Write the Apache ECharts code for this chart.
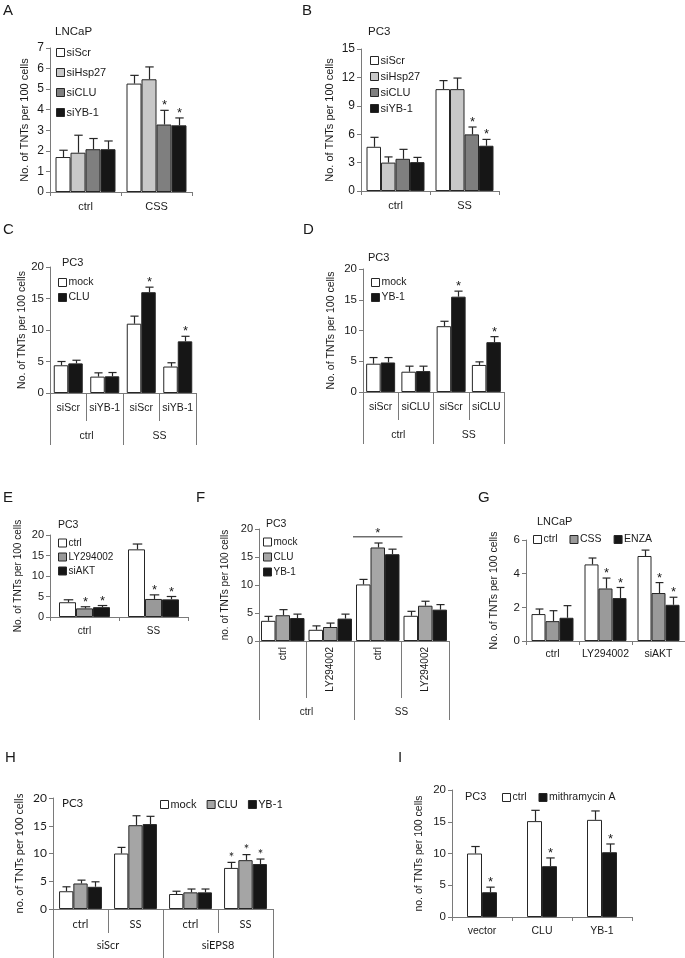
<!DOCTYPE html>
<html>
<head>
<meta charset="utf-8">
<script src="https://cdn.jsdelivr.net/npm/echarts@6/dist/echarts.min.js"></script>
<style>
  html, body { margin: 0; padding: 0; background: #fff; }
  #chart { width: 685px; height: 958px; }
</style>
</head>
<body>
<div id="chart"></div>
<script>
// ---- data ----
// A: LNCaP
const aCats = ['ctrl', 'CSS'];
const aNames = ['siScr', 'siHsp27', 'siCLU', 'siYB-1'];
const aMean = [[1.70, 5.27], [1.91, 5.48], [2.08, 3.28], [2.08, 3.24]];
const aErr = [[0.33, 0.40], [0.85, 0.60], [0.52, 0.69], [0.40, 0.36]];
const aStar = [[0, 0], [0, 0], [0, 1], [0, 1]];

// B: PC3
const bCats = ['ctrl', 'SS'];
const bNames = ['siScr', 'siHsp27', 'siCLU', 'siYB-1'];
const bMean = [[4.67, 10.76], [3.0, 10.76], [3.4, 5.98], [3.05, 4.78]];
const bErr = [[1.0, 0.9], [0.6, 1.17], [1.0, 0.78], [0.5, 0.67]];
const bStar = [[0, 0], [0, 0], [0, 1], [0, 1]];

// C: PC3
const cCats = ['siScr', 'siYB-1', 'siScr', 'siYB-1'];
const cGroups = ['ctrl', 'SS'];
const cNames = ['mock', 'CLU'];
const cMean = [[4.4, 2.6, 11.0, 4.2], [4.7, 2.65, 16.0, 8.2]];
const cErr = [[0.6, 0.6, 1.2, 0.6], [0.5, 0.6, 0.8, 0.8]];
const cStar = [[0, 0, 0, 0], [0, 0, 1, 1]];

// D: PC3
const dCats = ['siScr', 'siCLU', 'siScr', 'siCLU'];
const dGroups = ['ctrl', 'SS'];
const dNames = ['mock', 'YB-1'];
const dMean = [[4.6, 3.3, 10.7, 4.4], [4.8, 3.4, 15.5, 8.1]];
const dErr = [[1.0, 0.9, 0.8, 0.5], [0.8, 0.8, 0.9, 0.9]];
const dStar = [[0, 0, 0, 0], [0, 0, 1, 1]];

// E: PC3
const eCats = ['ctrl', 'SS'];
const eNames = ['ctrl', 'LY294002', 'siAKT'];
const eMean = [[3.6, 16.5], [2.1, 4.4], [2.4, 4.3]];
const eErr = [[0.6, 1.3], [0.4, 1.0], [0.4, 0.7]];
const eStar = [[0, 0], [1, 1], [1, 1]];

// F: PC3
const fCats = ['ctrl', 'LY294002', 'ctrl', 'LY294002'];
const fGroups = ['ctrl', 'SS'];
const fNames = ['mock', 'CLU', 'YB-1'];
const fMean = [[3.6, 2.0, 10.1, 4.5], [4.6, 2.5, 16.7, 6.3], [4.1, 4.0, 15.5, 5.6]];
const fErr = [[0.8, 0.7, 0.9, 0.8], [1.0, 0.7, 0.8, 0.8], [0.7, 0.8, 0.9, 0.9]];
const fStar = [[0, 0, 0, 0], [0, 0, 0, 0], [0, 0, 0, 0]];
const fSig = [[2, 18.6]];

// G: LNCaP
const gCats = ['ctrl', 'LY294002', 'siAKT'];
const gNames = ['ctrl', 'CSS', 'ENZA'];
const gMean = [[1.6, 4.55, 5.05], [1.18, 3.12, 2.85], [1.38, 2.55, 2.15]];
const gErr = [[0.3, 0.38, 0.35], [0.62, 0.62, 0.62], [0.72, 0.63, 0.45]];
const gStar = [[0, 0, 0], [0, 1, 1], [0, 1, 1]];

// H: PC3
const hCats = ['ctrl', 'SS', 'ctrl', 'SS'];
const hGroups = ['siScr', 'siEPS8'];
const hNames = ['mock', 'CLU', 'YB-1'];
const hMean = [[3.2, 10.0, 2.7, 7.4], [4.6, 15.1, 3.0, 8.8], [4.0, 15.3, 3.0, 8.1]];
const hErr = [[0.8, 1.1, 0.5, 1.0], [0.6, 1.7, 0.6, 1.0], [0.9, 1.4, 0.6, 0.9]];
const hStar = [[0, 0, 0, 1], [0, 0, 0, 1], [0, 0, 0, 1]];

// I: PC3
const iCats = ['vector', 'CLU', 'YB-1'];
const iNames = ['ctrl', 'mithramycin A'];
const iMean = [[10.0, 15.1, 15.3], [3.9, 8.0, 10.2]];
const iErr = [[1.1, 1.7, 1.4], [0.8, 1.3, 1.3]];
const iStar = [[0, 0, 0], [1, 1, 1]];

// ---- styling ----
const FONT = '"Liberation Sans", Arial, sans-serif';
const INK = '#1a1a1a';
const AXIS = '#7a7a7a';
const EDGE = '#262626';
const WHITE = '#ffffff', BLACK = '#161616';

const chart = echarts.init(document.getElementById('chart'));
const option = {
  animation: false,
  backgroundColor: '#fff',
  title: [], legend: [], grid: [], xAxis: [], yAxis: [], series: []
};

function addPanel(p) {
  const font = p.font || FONT;
  const fs = p.fs;
  const n = p.names.length;

  option.title.push({
    text: p.letter, left: p.letterPos[0], top: p.letterPos[1], padding: 0,
    textStyle: { fontSize: 15, fontWeight: 'normal', color: INK, fontFamily: FONT }
  });
  option.title.push({
    text: p.cell, left: p.cellPos[0], top: p.cellPos[1], padding: 0,
    textStyle: { fontSize: fs + 0.5, fontWeight: 'normal', color: INK, fontFamily: font }
  });

  const gi = option.grid.length;
  option.grid.push({ left: p.box[0], top: p.box[1], width: p.box[2], height: p.box[3] });

  const xi = option.xAxis.length;
  option.xAxis.push({
    gridIndex: gi, type: 'category', data: p.cats, position: 'bottom',
    axisLine: { lineStyle: { color: AXIS, width: 1 } },
    axisTick: { show: true, interval: 0, length: p.tick || 4, lineStyle: { color: AXIS } },
    axisLabel: { interval: 0, margin: p.labMargin, rotate: p.labRotate || 0, color: INK, fontSize: fs, fontFamily: font }
  });
  if (p.groups) {
    option.xAxis.push({
      gridIndex: gi, type: 'category', data: p.groups, position: 'bottom',
      axisLine: { show: false },
      axisTick: { show: true, interval: 0, length: p.tick2, lineStyle: { color: AXIS } },
      axisLabel: { interval: 0, margin: p.labMargin2, color: INK, fontSize: fs, fontFamily: font }
    });
  }

  const yi = option.yAxis.length;
  option.yAxis.push({
    gridIndex: gi, type: 'value', min: 0, max: p.max, interval: p.step,
    name: p.yName, nameLocation: 'middle', nameGap: p.nameGap,
    nameTextStyle: { color: INK, fontSize: fs, fontFamily: font },
    axisLine: { show: true, lineStyle: { color: AXIS } },
    axisTick: { show: true, length: 4, lineStyle: { color: AXIS } },
    axisLabel: { color: INK, fontSize: fs + 1, fontFamily: font, margin: 6 },
    splitLine: { show: false }
  });

  const errData = [];
  p.names.forEach((nm, k) => {
    option.series.push({
      type: 'bar', name: nm, xAxisIndex: xi, yAxisIndex: yi, data: p.mean[k],
      barWidth: p.bw, barGap: '0%', silent: true,
      itemStyle: { color: p.colors[k], borderColor: EDGE, borderWidth: 1 }
    });
    p.mean[k].forEach((v, c) => errData.push([c, v, p.err[k][c], p.star[k][c], k]));
  });

  // error bars + significance stars
  option.series.push({
    type: 'custom', xAxisIndex: xi, yAxisIndex: yi, data: errData, silent: true, z: 5,
    renderItem: (params, api) => {
      const c = api.value(0), v = api.value(1), e = api.value(2), s = api.value(3), k = api.value(4);
      const lo = api.coord([c, v]), hi = api.coord([c, v + e]);
      const x = Math.round(lo[0] + (k - (n - 1) / 2) * p.bw) + 0.5;
      const cap = p.bw * 0.28;
      const kids = [
        { type: 'line', shape: { x1: x, y1: lo[1], x2: x, y2: hi[1] }, style: { stroke: EDGE, lineWidth: 1.2 } },
        { type: 'line', shape: { x1: x - cap, y1: hi[1], x2: x + cap, y2: hi[1] }, style: { stroke: EDGE, lineWidth: 1.2 } }
      ];
      if (s) {
        kids.push({ type: 'text', x: x, y: hi[1] + 2,
          style: { text: '*', fill: INK, font: '13px ' + font, align: 'center', verticalAlign: 'bottom' } });
      }
      return { type: 'group', children: kids };
    }
  });

  // bracket across one group (panel F)
  if (p.sig) {
    option.series.push({
      type: 'custom', xAxisIndex: xi, yAxisIndex: yi, data: p.sig, silent: true, z: 5,
      renderItem: (params, api) => {
        const pt = api.coord([api.value(0), api.value(1)]);
        const half = n * p.bw / 2 + 3;
        return { type: 'group', children: [
          { type: 'line', shape: { x1: pt[0] - half, y1: pt[1], x2: pt[0] + half, y2: pt[1] }, style: { stroke: EDGE, lineWidth: 1 } },
          { type: 'text', x: pt[0], y: pt[1] + 3, style: { text: '*', fill: INK, font: '13px ' + font, align: 'center', verticalAlign: 'bottom' } }
        ] };
      }
    });
  }

  option.legend.push({
    orient: p.leg.orient, left: p.leg.left, top: p.leg.top, itemGap: p.leg.gap,
    itemWidth: 8, itemHeight: 8, icon: 'rect', selectedMode: false, padding: 0,
    textStyle: { color: INK, fontSize: fs, fontFamily: font, padding: [0, 0, 0, -3] },
    itemStyle: { borderColor: EDGE, borderWidth: 1 },
    data: p.names.map((nm, k) => ({ name: nm, itemStyle: { color: p.colors[k], borderColor: EDGE, borderWidth: 1 } }))
  });
}

const upper = 'No. of TNTs per 100 cells';
const lower = 'no. of TNTs per 100 cells';

addPanel({ letter: 'A', letterPos: [3, 3], cell: 'LNCaP', cellPos: [55, 26], box: [50, 48, 142, 144],
  max: 7, step: 1, cats: aCats, names: aNames, mean: aMean, err: aErr, star: aStar,
  colors: [WHITE, '#c8c8c8', '#7f7f7f', BLACK], bw: 15, fs: 11, labMargin: 9, yName: upper, nameGap: 20,
  leg: { orient: 'vertical', left: 56, top: 47, gap: 9 } });

addPanel({ letter: 'B', letterPos: [302, 3], cell: 'PC3', cellPos: [368, 26], box: [361, 49, 138, 142],
  max: 15, step: 3, cats: bCats, names: bNames, mean: bMean, err: bErr, star: bStar,
  colors: [WHITE, '#c8c8c8', '#7f7f7f', BLACK], bw: 14.5, fs: 11, labMargin: 9, yName: upper, nameGap: 26,
  leg: { orient: 'vertical', left: 370, top: 55, gap: 5 } });

addPanel({ letter: 'C', letterPos: [3, 222], cell: 'PC3', cellPos: [62, 257], box: [50, 267, 146, 126],
  max: 20, step: 5, cats: cCats, groups: cGroups, names: cNames, mean: cMean, err: cErr, star: cStar,
  colors: [WHITE, BLACK], bw: 14.5, fs: 10.5, tick: 28, labMargin: 10, tick2: 52, labMargin2: 38,
  yName: upper, nameGap: 20, leg: { orient: 'vertical', left: 58, top: 277, gap: 4 } });

addPanel({ letter: 'D', letterPos: [303, 222], cell: 'PC3', cellPos: [368, 252], box: [363, 269, 141, 123],
  max: 20, step: 5, cats: dCats, groups: dGroups, names: dNames, mean: dMean, err: dErr, star: dStar,
  colors: [WHITE, BLACK], bw: 14.5, fs: 10.5, tick: 28, labMargin: 10, tick2: 52, labMargin2: 38,
  yName: upper, nameGap: 26, leg: { orient: 'vertical', left: 371, top: 277, gap: 4 } });

addPanel({ letter: 'E', letterPos: [3, 490], cell: 'PC3', cellPos: [58, 520], box: [50, 535, 138, 82],
  max: 20, step: 5, cats: eCats, names: eNames, mean: eMean, err: eErr, star: eStar,
  colors: [WHITE, '#999999', BLACK], bw: 17, fs: 10, labMargin: 9, yName: upper, nameGap: 27,
  leg: { orient: 'vertical', left: 58, top: 538, gap: 4 } });

addPanel({ letter: 'F', letterPos: [196, 490], cell: 'PC3', cellPos: [266, 519], box: [259, 529, 190, 112],
  max: 20, step: 5, cats: fCats, groups: fGroups, names: fNames, mean: fMean, err: fErr, star: fStar, sig: fSig,
  colors: [WHITE, '#a6a6a6', BLACK], bw: 14.5, fs: 10, tick: 57, labMargin: 6, labRotate: 90,
  tick2: 79, labMargin2: 66, yName: lower, nameGap: 29,
  leg: { orient: 'vertical', left: 263, top: 537, gap: 5 } });

addPanel({ letter: 'G', letterPos: [478, 490], cell: 'LNCaP', cellPos: [537, 516], box: [526, 540, 159, 101],
  max: 6, step: 2, cats: gCats, names: gNames, mean: gMean, err: gErr, star: gStar,
  colors: [WHITE, '#9a9a9a', BLACK], bw: 14, fs: 10.5, labMargin: 8, yName: upper, nameGap: 26,
  leg: { orient: 'horizontal', left: 533, top: 534, gap: 12 } });

addPanel({ letter: 'H', letterPos: [5, 750], cell: 'PC3', cellPos: [62, 797], box: [53, 798, 220, 111],
  max: 20, step: 5, cats: hCats, groups: hGroups, names: hNames, mean: hMean, err: hErr, star: hStar,
  colors: [WHITE, '#a5a5a5', BLACK], bw: 14.3, fs: 11, font: 'Lato, "Open Sans", sans-serif',
  tick: 24, labMargin: 10, tick2: 50, labMargin2: 31, yName: lower, nameGap: 28,
  leg: { orient: 'horizontal', left: 160, top: 799, gap: 10 } });

addPanel({ letter: 'I', letterPos: [398, 750], cell: 'PC3', cellPos: [465, 791], box: [452, 790, 180, 127],
  max: 20, step: 5, cats: iCats, names: iNames, mean: iMean, err: iErr, star: iStar,
  colors: [WHITE, BLACK], bw: 15, fs: 10.5, labMargin: 9, yName: lower, nameGap: 27,
  leg: { orient: 'horizontal', left: 502, top: 792, gap: 12 } });

chart.setOption(option);
</script>
</body>
</html>
